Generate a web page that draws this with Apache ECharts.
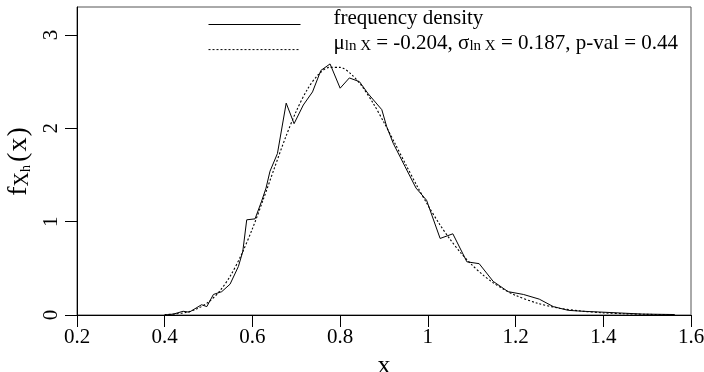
<!DOCTYPE html>
<html>
<head>
<meta charset="utf-8">
<script src="https://cdn.jsdelivr.net/npm/echarts@6/dist/echarts.min.js"></script>
<style>
  html, body { margin: 0; padding: 0; background: #fff; }
  #chart { width: 704px; height: 372px; }
</style>
</head>
<body>
<div id="chart"></div>
<script>
// ── Data ────────────────────────────────────────────────────────────────────

// frequency density (solid polyline)
var densX = [0.400, 0.420, 0.442, 0.456, 0.484, 0.496, 0.511, 0.530, 0.549, 0.568,
             0.578, 0.587, 0.606, 0.621, 0.631, 0.640, 0.657, 0.677, 0.695, 0.716,
             0.737, 0.756, 0.777, 0.800, 0.821, 0.844, 0.864, 0.895, 0.906, 0.921,
             0.948, 0.973, 0.997, 1.028, 1.057, 1.089, 1.117, 1.149, 1.183, 1.218,
             1.254, 1.286, 1.320, 1.354, 1.400, 1.445, 1.490, 1.563];
var densY = [0.00, 0.01, 0.04, 0.03, 0.11, 0.09, 0.22, 0.25, 0.33, 0.52,
             0.68, 1.02, 1.03, 1.22, 1.36, 1.54, 1.73, 2.27, 2.05, 2.25,
             2.39, 2.62, 2.69, 2.43, 2.54, 2.50, 2.37, 2.20, 2.02, 1.84,
             1.59, 1.36, 1.23, 0.82, 0.87, 0.57, 0.55, 0.36, 0.25, 0.22,
             0.17, 0.09, 0.05, 0.04, 0.03, 0.02, 0.01, 0.005];

// fitted lognormal (dotted curve)
var fitX = [0.400, 0.425, 0.450, 0.475, 0.500, 0.525, 0.550, 0.575, 0.600, 0.625,
            0.650, 0.675, 0.700, 0.725, 0.750, 0.775, 0.800, 0.825, 0.850, 0.875,
            0.900, 0.925, 0.950, 0.975, 1.000, 1.025, 1.050, 1.075, 1.100, 1.125,
            1.150, 1.175, 1.200, 1.250, 1.300, 1.350, 1.400, 1.450, 1.500, 1.560];
var fitY = [0.004, 0.012, 0.030, 0.069, 0.139, 0.254, 0.422, 0.648, 0.925, 1.241,
            1.573, 1.896, 2.184, 2.415, 2.574, 2.653, 2.653, 2.581, 2.449, 2.271,
            2.063, 1.838, 1.609, 1.386, 1.177, 0.985, 0.815, 0.666, 0.539, 0.432,
            0.342, 0.270, 0.210, 0.126, 0.073, 0.042, 0.023, 0.013, 0.007, 0.003];

var xTicks = [0.2, 0.4, 0.6, 0.8, 1.0, 1.2, 1.4, 1.6];
var yTicks = [0, 1, 2, 3];

var densName = 'frequency density';
var fitName = 'lognormal fit';
var fitLabel = '{t|\u03bc}{s|ln X}{t| = -0.204, \u03c3}{s|ln X}{t| = 0.187, p-val = 0.44}';

// ── Chart ──────────────────────────────────────────────────────────────────

var FONT = '"Liberation Serif", "DejaVu Serif", serif';

function zip(xs, ys) {
  return xs.map(function (x, i) { return [x, ys[i]]; });
}

var chart = echarts.init(document.getElementById('chart'), null, { renderer: 'canvas' });

chart.setOption({
  animation: false,
  backgroundColor: '#fff',
  grid: {
    left: 77, right: 13, top: 7, bottom: 57,
    outerBoundsMode: 'none',
    containLabel: false,
    show: true, borderColor: '#555', borderWidth: 1
  },
  legend: {
    orient: 'vertical',
    left: 208,
    top: 8,
    padding: 0,
    itemWidth: 92,
    itemHeight: 14,
    itemGap: 3,
    selectedMode: false,
    data: [densName, fitName],
    itemStyle: { opacity: 0 },
    lineStyle: { width: 1 },
    formatter: function (name) {
      return name === fitName ? fitLabel : '{t|' + name + '}';
    },
    textStyle: {
      fontFamily: FONT,
      fontSize: 21,
      color: '#000',
      padding: [0, 0, 12, 28],
      rich: {
        t: { fontFamily: FONT, fontSize: 21, lineHeight: 20, color: '#000' },
        s: { fontFamily: FONT, fontSize: 15, lineHeight: 10, verticalAlign: 'bottom', color: '#000' }
      }
    }
  },
  xAxis: {
    type: 'value',
    min: 0.2, max: 1.6, interval: 0.2,
    name: 'x',
    nameLocation: 'middle',
    nameGap: 33,
    nameTextStyle: { fontFamily: FONT, fontSize: 26, color: '#000' },
    axisLine: { onZero: false, lineStyle: { color: '#000', width: 1 } },
    axisTick: { customValues: xTicks, length: 12, lineStyle: { color: '#000' } },
    axisLabel: {
      customValues: xTicks,
      margin: 12,
      fontFamily: FONT, fontSize: 21, color: '#000',
      formatter: function (v) { return String(+(+v).toFixed(1)); }
    },
    splitLine: { show: false }
  },
  yAxis: {
    type: 'value',
    min: 0, max: 3.3,
    name: '{f|f}{s|X}{ss|h}{p|(}{m|x}{p|)}',
    nameLocation: 'middle',
    nameRotate: 90,
    nameGap: 33,
    nameTextStyle: {
      fontFamily: FONT, fontSize: 26, color: '#000',
      rich: {
        f: { fontFamily: FONT, fontSize: 28, lineHeight: 28, color: '#000' },
        m: { fontFamily: FONT, fontSize: 28, lineHeight: 28, color: '#000' },
        p: { fontFamily: FONT, fontSize: 28, lineHeight: 28, padding: [0, 1, 0, 1], color: '#000' },
        s: { fontFamily: FONT, fontSize: 20, lineHeight: 12, verticalAlign: 'bottom', color: '#000' },
        ss: { fontFamily: FONT, fontSize: 14, lineHeight: 4, verticalAlign: 'bottom', padding: [0, 2, 0, 0], color: '#000' }
      }
    },
    axisLine: { show: true, lineStyle: { color: '#000', width: 1 } },
    axisTick: { customValues: yTicks, length: 12, lineStyle: { color: '#000' } },
    axisLabel: {
      customValues: yTicks,
      rotate: 90,
      margin: 15,
      fontFamily: FONT, fontSize: 21, color: '#000'
    },
    splitLine: { show: false }
  },
  series: [
    {
      name: densName,
      type: 'line',
      data: zip(densX, densY),
      symbol: 'none',
      smooth: false,
      lineStyle: { color: '#000', width: 1 },
      itemStyle: { color: '#000' }
    },
    {
      name: fitName,
      type: 'line',
      data: zip(fitX, fitY),
      symbol: 'none',
      smooth: 0.3,
      lineStyle: { color: '#000', width: 1.1, type: [2, 2] },
      itemStyle: { color: '#000' }
    }
  ]
});
</script>
</body>
</html>
